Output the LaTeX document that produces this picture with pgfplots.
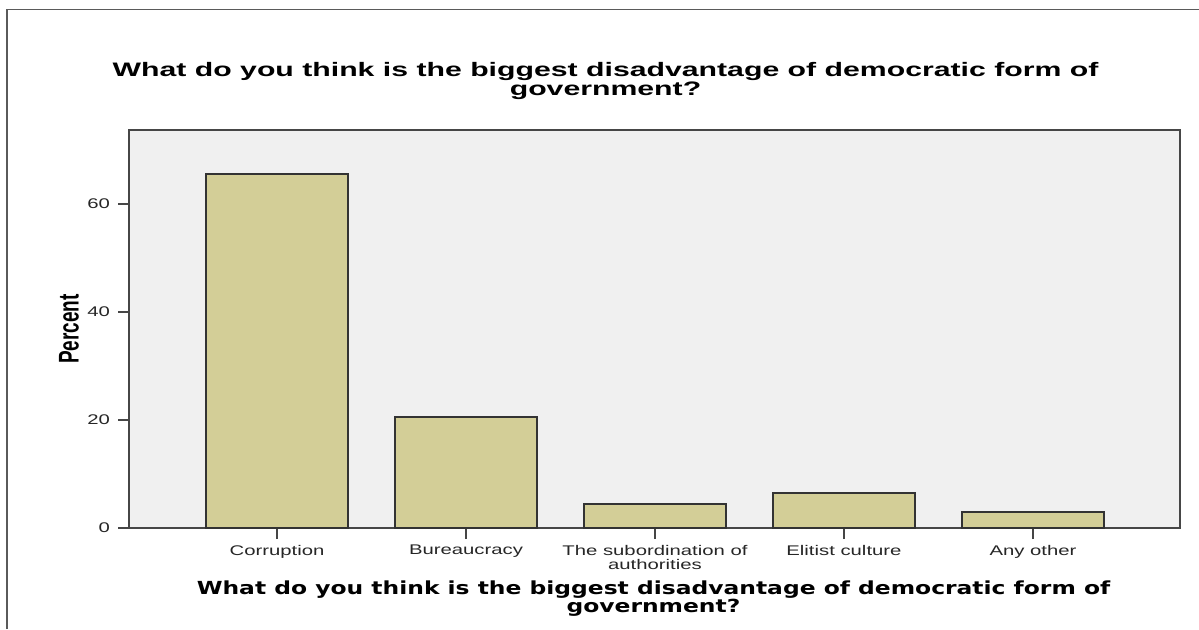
\documentclass[border=0pt]{standalone}
\usepackage{fontspec}
\usepackage{graphicx}
\usepackage{pgfplots}
\pgfplotsset{compat=1.18}
\setmainfont{Liberation Sans}
\newfontfamily\tickfamily[FakeStretch=1.45]{Liberation Sans}
\newfontfamily\titlefamily[FakeStretch=1.55]{Liberation Sans}
\newfontfamily\xlabfamily[FakeStretch=1.3]{DejaVu Sans}
\definecolor{barfill}{RGB}{211,206,151}
\definecolor{plotbg}{RGB}{240,240,240}
\definecolor{axisgray}{RGB}{70,70,70}
\definecolor{frame}{RGB}{90,90,90}
\begin{document}
\begin{tikzpicture}
\path[use as bounding box] (0pt,0pt) rectangle (599.5pt,-314.5pt);
\draw[frame, line width=0.7pt] (3.5pt,-314.5pt) -- (3.5pt,-4.6pt) -- (599.5pt,-4.6pt);
\begin{axis}[
  at={(64.5pt,-264pt)}, anchor=south west,
  scale only axis, width=525.5pt, height=199pt,
  ybar, bar width=0.75,
  xmin=-0.783, xmax=4.778, ymin=0, ymax=73.7,
  xtick={0,1,2,3,4},
  xticklabels={Corruption, Bureaucracy, {The subordination of\\authorities}, Elitist culture, Any other},
  ytick={0,20,40,60},
  xtick pos=bottom, ytick pos=left,
  tick align=outside,
  major tick length=5.5pt,
  axis line style={axisgray, line width=1pt},
  every tick/.style={axisgray, line width=1pt},
  axis background/.style={fill=plotbg},
  /pgf/number format/assume math mode=true,
  ticklabel style={text=black!85, font=\tickfamily\fontsize{7}{7.2}\selectfont},
  xticklabel style={align=center, yshift=0.5pt},
  yticklabel style={xshift=-0.5pt},
]
\addplot[fill=barfill, draw=black!80, line width=1pt] coordinates {(0,65.6) (1,20.5) (2,4.5) (3,6.4) (4,3.0)};
\end{axis}
\node[anchor=base, font=\titlefamily\bfseries\fontsize{9.75}{10}\selectfont] at (302.75pt,-38pt) {What do you think is the biggest disadvantage of democratic form of};
\node[anchor=base, font=\titlefamily\bfseries\fontsize{9.75}{10}\selectfont] at (302.75pt,-47.75pt) {government?};
\node[anchor=base, font=\xlabfamily\bfseries\fontsize{9}{10}\selectfont] at (326.75pt,-297.15pt) {What do you think is the biggest disadvantage of democratic form of};
\node[anchor=base, font=\xlabfamily\bfseries\fontsize{9}{10}\selectfont] at (326.75pt,-306.15pt) {government?};
\node[font=\bfseries\fontsize{9.5}{10}\selectfont] at (34.5pt,-164.5pt) {\rotatebox{90}{\scalebox{1}[1.5]{Percent}}};
\end{tikzpicture}
\end{document}
